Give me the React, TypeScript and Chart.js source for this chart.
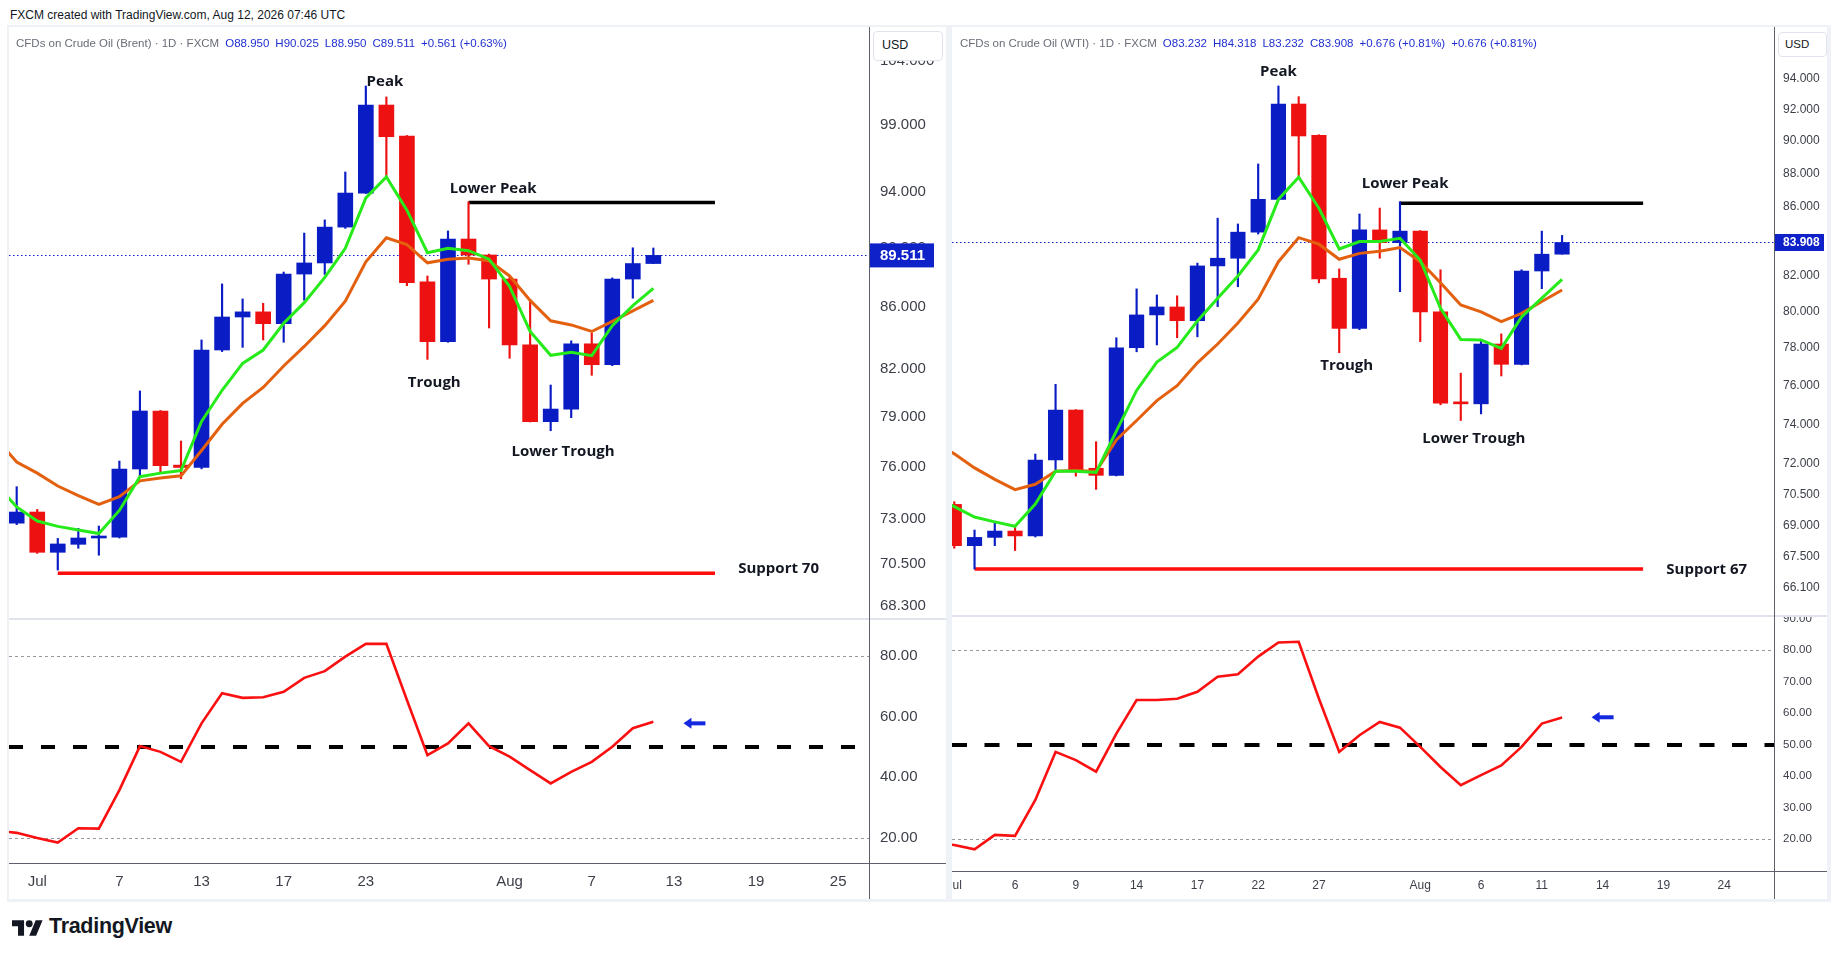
import React, { useEffect, useRef } from "react";
import { Chart, registerables } from "chart.js";

Chart.register(...registerables);

// ===================== DATA =====================
// trading-day index: 0 = 30 Jun, 1 = 1 Jul, ... 24 = 3 Aug, 31 = 12 Aug

// ---- Brent (candles idx 0..31) ----
const brentFirstIdx = 0;
const brentOpen = [72.78, 73.41, 71.16, 71.6, 71.95, 72.0, 75.89, 79.37, 76.12, 75.98, 83.2, 85.35, 85.69, 84.91, 88.23, 88.99, 91.49, 93.93, 100.54, 98.16, 87.7, 83.74, 90.65, 89.54, 87.89, 83.53, 78.72, 79.49, 83.6, 82.26, 87.89, 88.95];
const brentHigh = [74.86, 73.56, 71.93, 72.49, 72.62, 76.36, 80.61, 79.4, 77.55, 83.85, 87.56, 86.55, 86.26, 88.37, 91.07, 92.0, 95.47, 102.03, 101.17, 98.2, 88.1, 91.22, 93.3, 89.6, 88.1, 86.42, 80.98, 83.79, 84.3, 87.97, 90.04, 90.025];
const brentLow = [72.7, 71.1, 70.19, 71.38, 71.0, 71.95, 75.44, 75.73, 75.32, 75.9, 83.1, 83.37, 83.85, 83.7, 86.46, 88.2, 91.4, 93.9, 95.12, 87.44, 82.6, 83.7, 88.9, 84.63, 82.67, 78.7, 78.17, 78.96, 81.59, 82.2, 86.6, 88.95];
const brentClose = [73.41, 71.16, 71.62, 71.95, 72.0, 75.89, 79.37, 76.08, 75.98, 83.2, 85.35, 85.69, 84.91, 88.23, 88.99, 91.49, 93.93, 100.54, 98.11, 87.65, 83.74, 90.65, 89.54, 87.89, 83.53, 78.72, 79.49, 83.6, 82.26, 87.89, 88.95, 89.511];
// indicator lines (idx -1..31)
const brentLineFirstIdx = -1;
const brentFast = [75.0, 73.7, 72.9, 72.6, 72.4, 72.2, 73.5, 75.44, 75.65, 75.8, 78.73, 80.65, 82.34, 83.2, 84.94, 86.3, 88.0, 90.0, 93.58, 95.1, 92.7, 89.7, 90.0, 89.84, 89.25, 87.39, 84.4, 82.86, 83.05, 82.84, 84.78, 86.1, 87.26];
const brentSlow = [77.7, 76.3, 75.65, 74.9, 74.35, 73.84, 74.29, 75.2, 75.37, 75.49, 76.98, 78.56, 79.84, 80.83, 82.18, 83.43, 84.78, 86.4, 89.07, 90.74, 90.26, 89.0, 89.25, 89.33, 89.14, 88.1, 86.45, 85.1, 84.83, 84.4, 85.06, 85.75, 86.45];
const brentRsi = [22.5, 21.7, 20.0, 18.5, 23.2, 23.1, 35.8, 50.3, 48.4, 45.1, 57.8, 67.7, 66.2, 66.4, 68.2, 72.8, 75.0, 79.8, 84.0, 84.0, 65.5, 47.3, 51.2, 57.8, 50.3, 46.8, 42.4, 38.0, 41.8, 45.1, 50.1, 56.2, 58.3];
const brentPriceTicks = [104, 99, 94, 90, 86, 82, 79, 76, 73, 70.5, 68.3];
const brentRsiTicks = [20, 40, 60, 80];
const brentTimeIdx = [1, 5, 9, 13, 17, 24, 28, 32, 36, 40];
const brentTimeLabels = ["Jul", "7", "13", "17", "23", "Aug", "7", "13", "19", "25"];
const brentSupport = 70.02;
const brentLowerPeak = 93.25;

// ---- WTI (candles idx 1..31) ----
const wtiFirstIdx = 1;
const wtiOpen = [70.01, 68.04, 68.43, 68.73, 68.5, 72.19, 74.73, 71.78, 71.43, 78.02, 79.81, 80.25, 79.49, 82.56, 83.0, 84.51, 86.45, 92.34, 90.36, 81.86, 79.07, 84.64, 83.9, 84.57, 79.98, 75.1, 75.05, 78.22, 77.13, 82.27, 83.232];
const wtiHigh = [70.14, 68.78, 69.13, 68.94, 72.49, 76.07, 74.75, 73.11, 78.56, 81.26, 80.92, 80.87, 82.72, 85.33, 84.99, 88.59, 93.5, 92.81, 90.4, 82.39, 85.58, 85.93, 86.31, 84.6, 82.34, 76.66, 78.44, 78.77, 82.34, 84.57, 84.318];
const wtiLow = [67.92, 66.95, 68.04, 67.81, 68.45, 71.7, 71.39, 70.74, 71.4, 77.8, 78.17, 78.56, 78.61, 80.27, 81.38, 84.4, 86.4, 87.82, 81.6, 77.75, 79.0, 83.0, 81.1, 78.35, 75.0, 74.19, 74.53, 76.51, 77.1, 81.27, 83.232];
const wtiClose = [68.04, 68.43, 68.73, 68.5, 72.19, 74.73, 71.7, 71.43, 78.02, 79.81, 80.25, 79.49, 82.56, 83.0, 84.51, 86.45, 92.34, 90.32, 81.82, 79.07, 84.64, 83.9, 84.57, 79.98, 75.08, 75.05, 78.22, 77.13, 82.27, 83.232, 83.908];
// indicator lines (idx 0..31)
const wtiLineFirstIdx = 0;
const wtiFast = [70.4, 69.9, 69.4, 69.17, 68.96, 70.03, 71.63, 71.63, 71.57, 73.65, 75.75, 77.25, 78.04, 79.48, 80.74, 81.99, 83.48, 86.45, 87.78, 85.92, 83.53, 83.96, 83.96, 84.15, 82.9, 80.18, 78.47, 78.44, 77.99, 79.7, 80.74, 81.8];
const wtiSlow = [73.1, 72.5, 71.8, 71.23, 70.73, 70.99, 71.63, 71.67, 71.62, 73.2, 74.19, 75.22, 76.0, 77.21, 78.22, 79.36, 80.68, 82.8, 84.19, 83.81, 82.94, 83.28, 83.4, 83.61, 82.8, 81.6, 80.36, 79.98, 79.44, 79.9, 80.55, 81.2];
const wtiRsi = [18.7, 18.1, 16.7, 21.3, 21.0, 32.4, 47.7, 45.1, 41.4, 53.5, 64.2, 64.2, 64.6, 66.8, 71.6, 72.4, 78.0, 82.5, 82.7, 64.6, 47.7, 53.0, 57.2, 55.4, 49.3, 42.9, 37.1, 40.3, 43.4, 49.3, 56.7, 58.6];
const wtiPriceTicks = [96, 94, 92, 90, 88, 86, 84, 82, 80, 78, 76, 74, 72, 70.5, 69, 67.5, 66.1];
const wtiRsiTicks = [20, 30, 40, 50, 60, 70, 80, 90];
const wtiTimeIdx = [1, 4, 7, 10, 13, 16, 19, 24, 27, 30, 33, 36, 39];
const wtiTimeLabels = ["Jul", "6", "9", "14", "17", "22", "27", "Aug", "6", "11", "14", "19", "24"];
const wtiSupport = 66.95;
const wtiLowerPeak = 86.22;

// ===================== STYLE =====================
const BLUE = "#0a1cc4";
const RED = "#ee1111";
const GREEN = "#27ea1b";
const ORANGE = "#e3600f";
const RSI_RED = "#fa1010";
const LINE_RED = "#ff0d0d";
const AXIS_TEXT = "#3c3f48";
const FONT = "'Liberation Sans', Arial, sans-serif";
const LABEL_FONT = "bold 15px 'Open Sans', 'Liberation Sans', sans-serif";

Chart.defaults.font.family = FONT;

// ===================== OVERLAY PLUGIN =====================
function makeOverlay(cfg: any) {
  return {
    id: "overlay",
    beforeDatasetsDraw(chart: any) {
      const { ctx, chartArea: a, scales } = chart;
      const xs = scales.x;
      const ys = scales.y;
      ctx.save();
      ctx.beginPath();
      ctx.rect(a.left, a.top, a.right - a.left, a.bottom - a.top);
      ctx.clip();
      for (const r of cfg.refLines || []) {
        const py = Math.round(ys.getPixelForValue(r.y)) + (r.width % 2 ? 0.5 : 0);
        ctx.strokeStyle = r.color;
        ctx.lineWidth = r.width;
        ctx.setLineDash(r.dash || []);
        ctx.beginPath();
        ctx.moveTo(a.left, py);
        ctx.lineTo(a.right, py);
        ctx.stroke();
      }
      ctx.setLineDash([]);
      for (const s of cfg.segments || []) {
        const py = ys.getPixelForValue(s.y);
        ctx.strokeStyle = s.color;
        ctx.lineWidth = s.width;
        ctx.beginPath();
        ctx.moveTo(xs.getPixelForValue(s.x1), py);
        ctx.lineTo(xs.getPixelForValue(s.x2), py);
        ctx.stroke();
      }
      if (cfg.last) {
        const py = Math.round(ys.getPixelForValue(cfg.last.value)) + 0.5;
        ctx.strokeStyle = cfg.last.color;
        ctx.lineWidth = 1;
        ctx.setLineDash([1.5, 2.5]);
        ctx.beginPath();
        ctx.moveTo(a.left, py);
        ctx.lineTo(a.right, py);
        ctx.stroke();
        ctx.setLineDash([]);
      }
      ctx.restore();
    },
    afterDatasetsDraw(chart: any) {
      const { ctx, scales } = chart;
      const xs = scales.x;
      const ys = scales.y;
      ctx.save();
      ctx.fillStyle = "#131722";
      ctx.font = LABEL_FONT;
      ctx.textAlign = "center";
      ctx.textBaseline = "middle";
      for (const l of cfg.labels || []) {
        ctx.fillText(l.text, xs.getPixelForValue(l.x), ys.getPixelForValue(l.y));
      }
      for (const ar of cfg.arrows || []) {
        const cx = xs.getPixelForValue(ar.x);
        const cy = ys.getPixelForValue(ar.y);
        ctx.fillStyle = cfg.arrowColor;
        ctx.beginPath();
        ctx.moveTo(cx - 11, cy);
        ctx.lineTo(cx - 3, cy - 5.5);
        ctx.lineTo(cx - 3, cy + 5.5);
        ctx.closePath();
        ctx.fill();
        ctx.fillRect(cx - 4, cy - 2, 15, 4);
      }
      ctx.restore();
    },
    afterDraw(chart: any) {
      if (!cfg.last) return;
      const { ctx, chartArea: a, scales } = chart;
      const py = scales.y.getPixelForValue(cfg.last.value);
      ctx.save();
      ctx.fillStyle = cfg.last.color;
      ctx.fillRect(a.right + 1, py - cfg.last.boxH / 2, cfg.last.boxW, cfg.last.boxH);
      ctx.fillStyle = "#ffffff";
      ctx.font = cfg.last.font;
      ctx.textAlign = "left";
      ctx.textBaseline = "middle";
      ctx.fillText(cfg.last.text, a.right + cfg.last.pad, py + 0.5);
      ctx.restore();
    },
  };
}

// ===================== CONFIG BUILDERS =====================
function priceConfig(p: any) {
  const candles = p.open.map((o: number, k: number) => ({
    x: p.firstIdx + k,
    o,
    h: p.high[k],
    l: p.low[k],
    c: p.close[k],
  }));
  const colors = candles.map((c: any) => (c.c >= c.o ? BLUE : RED));
  const last = candles[candles.length - 1];
  return {
    type: "bar",
    data: {
      datasets: [
        {
          type: "bar",
          data: candles.map((c: any) => ({ x: c.x, y: [c.l, c.h] })),
          backgroundColor: colors,
          barThickness: p.wickW,
          grouped: false,
          order: 3,
        },
        {
          type: "bar",
          data: candles.map((c: any) => ({ x: c.x, y: [c.o, c.c] })),
          backgroundColor: colors,
          barThickness: p.bodyW,
          minBarLength: 2,
          grouped: false,
          order: 2,
        },
        {
          type: "line",
          data: p.slow.map((v: number, k: number) => ({ x: p.lineFirst + k, y: v })),
          borderColor: ORANGE,
          borderWidth: 3,
          pointRadius: 0,
          tension: 0,
          order: 1,
        },
        {
          type: "line",
          data: p.fast.map((v: number, k: number) => ({ x: p.lineFirst + k, y: v })),
          borderColor: GREEN,
          borderWidth: 3,
          pointRadius: 0,
          tension: 0,
          order: 0,
        },
      ],
    },
    options: {
      responsive: false,
      animation: false,
      events: [],
      layout: { padding: 0 },
      plugins: { legend: { display: false }, tooltip: { enabled: false } },
      scales: {
        x: { type: "linear", min: p.xMin, max: p.xMax, display: false, offset: false },
        y: {
          type: "logarithmic",
          position: "right",
          min: p.yMin,
          max: p.yMax,
          grid: { display: false, drawTicks: false },
          border: { display: false },
          ticks: {
            autoSkip: false,
            padding: p.tickPad,
            color: AXIS_TEXT,
            font: { family: FONT, size: p.tickSize },
            callback: (v: any) => Number(v).toFixed(3),
          },
          afterBuildTicks: (s: any) => {
            s.ticks = p.priceTicks.map((v: number) => ({ value: v }));
          },
          afterFit: (s: any) => {
            s.width = p.axisW;
            s.paddingTop = 0;
            s.paddingBottom = 0;
          },
        },
      },
    },
    plugins: [
      makeOverlay({
        segments: p.segments,
        labels: p.labels,
        last: {
          value: last.c,
          text: last.c.toFixed(3),
          color: "#0f21c8",
          boxW: p.boxW,
          boxH: p.boxH,
          font: p.boxFont,
          pad: p.tickPad,
        },
      }),
    ],
  };
}

function rsiConfig(p: any) {
  return {
    type: "line",
    data: {
      datasets: [
        {
          data: p.rsi.map((v: number, k: number) => ({ x: p.lineFirst + k, y: v })),
          borderColor: RSI_RED,
          borderWidth: 2.6,
          pointRadius: 0,
          tension: 0,
        },
      ],
    },
    options: {
      responsive: false,
      animation: false,
      events: [],
      layout: { padding: 0 },
      plugins: { legend: { display: false }, tooltip: { enabled: false } },
      scales: {
        x: {
          type: "linear",
          position: "bottom",
          min: p.xMin,
          max: p.xMax,
          offset: false,
          grid: { display: false, drawTicks: false },
          border: { display: false },
          ticks: {
            autoSkip: false,
            maxRotation: 0,
            minRotation: 0,
            padding: p.timePad,
            color: AXIS_TEXT,
            font: { family: FONT, size: p.timeSize },
            callback: (v: any) => {
              const i = p.timeIdx.indexOf(Number(v));
              return i >= 0 ? p.timeLabels[i] : "";
            },
          },
          afterBuildTicks: (s: any) => {
            s.ticks = p.timeIdx.map((v: number) => ({ value: v }));
          },
          afterFit: (s: any) => {
            s.height = p.timeH;
            s.paddingLeft = 0;
            s.paddingRight = 0;
          },
        },
        y: {
          type: "linear",
          position: "right",
          min: p.rMin,
          max: p.rMax,
          grid: { display: false, drawTicks: false },
          border: { display: false },
          ticks: {
            autoSkip: false,
            padding: p.tickPad,
            color: AXIS_TEXT,
            font: { family: FONT, size: p.rsiTickSize },
            callback: (v: any) => Number(v).toFixed(2),
          },
          afterBuildTicks: (s: any) => {
            s.ticks = p.rsiTicks.map((v: number) => ({ value: v }));
          },
          afterFit: (s: any) => {
            s.width = p.axisW;
            s.paddingTop = 0;
            s.paddingBottom = 0;
          },
        },
      },
    },
    plugins: [
      makeOverlay({
        refLines: [
          { y: 80, color: "#9598a1", width: 1, dash: [3, 3] },
          { y: 20, color: "#9598a1", width: 1, dash: [3, 3] },
          { y: 50, color: "#000000", width: 4, dash: p.midDash },
        ],
        arrows: [{ x: 33, y: p.arrowY }],
        arrowColor: "#1428e0",
      }),
    ],
  };
}

// ===================== PANEL SPECS =====================
const brentPrice = priceConfig({
  open: brentOpen, high: brentHigh, low: brentLow, close: brentClose, firstIdx: brentFirstIdx,
  fast: brentFast, slow: brentSlow, lineFirst: brentLineFirstIdx,
  xMin: -0.375, xMax: 41.5, yMin: 67.585, yMax: 106.79,
  priceTicks: brentPriceTicks, axisW: 78, tickPad: 11, tickSize: 15,
  wickW: 1.5, bodyW: 15, boxW: 64, boxH: 24, boxFont: `bold 15px ${FONT}`,
  segments: [
    { y: brentSupport, x1: 2, x2: 34, color: LINE_RED, width: 3.5 },
    { y: brentLowerPeak, x1: 22, x2: 34, color: "#000000", width: 3.5 },
  ],
  labels: [
    { text: "Peak", x: 17.93, y: 102.37 },
    { text: "Lower Peak", x: 23.2, y: 94.27 },
    { text: "Trough", x: 20.33, y: 81.13 },
    { text: "Lower Trough", x: 26.6, y: 76.92 },
    { text: "Support 70", x: 37.1, y: 70.28 },
  ],
});

const brentRsiCfg = rsiConfig({
  rsi: brentRsi, lineFirst: brentLineFirstIdx,
  xMin: -0.375, xMax: 41.5, rMin: 11.76, rMax: 92.2,
  rsiTicks: brentRsiTicks, timeIdx: brentTimeIdx, timeLabels: brentTimeLabels,
  axisW: 78, tickPad: 11, rsiTickSize: 15, timeSize: 15, timePad: 10, timeH: 36,
  midDash: [14, 18], arrowY: 57.8,
});

const wtiPrice = priceConfig({
  open: wtiOpen, high: wtiHigh, low: wtiLow, close: wtiClose, firstIdx: wtiFirstIdx,
  fast: wtiFast, slow: wtiSlow, lineFirst: wtiLineFirstIdx,
  xMin: 0.888, xMax: 41.46, yMin: 64.81, yMax: 97.39,
  priceTicks: wtiPriceTicks, axisW: 53, tickPad: 9, tickSize: 12,
  wickW: 1.5, bodyW: 14.5, boxW: 49, boxH: 17, boxFont: `bold 12px ${FONT}`,
  segments: [
    { y: wtiSupport, x1: 2, x2: 35, color: LINE_RED, width: 3.5 },
    { y: wtiLowerPeak, x1: 23, x2: 35, color: "#000000", width: 3.5 },
  ],
  labels: [
    { text: "Peak", x: 17.0, y: 94.43 },
    { text: "Lower Peak", x: 23.25, y: 87.37 },
    { text: "Trough", x: 20.37, y: 77.05 },
    { text: "Lower Trough", x: 26.64, y: 73.28 },
    { text: "Support 67", x: 38.14, y: 66.9 },
  ],
});

const wtiRsiCfg = rsiConfig({
  rsi: wtiRsi, lineFirst: wtiLineFirstIdx,
  xMin: 0.888, xMax: 41.46, rMin: 9.83, rMax: 90.9,
  rsiTicks: wtiRsiTicks, timeIdx: wtiTimeIdx, timeLabels: wtiTimeLabels,
  axisW: 53, tickPad: 9, rsiTickSize: 11.5, timeSize: 12, timePad: 7, timeH: 28,
  midDash: [15, 17.5], arrowY: 58.7,
});

// ===================== COMPONENTS =====================
function ChartCanvas(props: { left: number; top: number; width: number; height: number; config: any }) {
  const ref = useRef<HTMLCanvasElement>(null);
  useEffect(() => {
    const chart = new Chart(ref.current as HTMLCanvasElement, props.config);
    return () => chart.destroy();
  }, []);
  return (
    <canvas
      ref={ref}
      width={props.width}
      height={props.height}
      style={{ position: "absolute", left: props.left, top: props.top, width: props.width, height: props.height, zIndex: 1 }}
    />
  );
}

function Box(props: { l: number; t: number; w: number; h: number; bg: string; z?: number }) {
  return (
    <div
      style={{
        position: "absolute",
        left: props.l,
        top: props.t,
        width: props.w,
        height: props.h,
        background: props.bg,
        zIndex: props.z === undefined ? 2 : props.z,
      }}
    />
  );
}

function Legend(props: { left: number; name: string; o: number[]; h: number[]; l: number[]; c: number[]; twice?: boolean }) {
  const n = props.c.length - 1;
  const ch = props.c[n] - props.c[n - 1];
  const pct = (ch / props.c[n - 1]) * 100;
  const blue = "#1f2fd0";
  const grey = "#6a6d78";
  const chText = `${ch >= 0 ? "+" : ""}${ch.toFixed(3)} (${ch >= 0 ? "+" : ""}${pct.toFixed(2)}%)`;
  const item = (k: string, v: number) => (
    <span style={{ marginLeft: 6 }}>
      <span style={{ color: blue }}>{k}</span>
      <span style={{ color: blue }}>{v.toFixed(3)}</span>
    </span>
  );
  return (
    <div
      style={{
        position: "absolute",
        left: props.left,
        top: 37,
        font: `11.5px ${FONT}`,
        color: grey,
        whiteSpace: "nowrap",
        zIndex: 3,
      }}
    >
      <span>{props.name}</span>
      {item("O", props.o[n])}
      {item("H", props.h[n])}
      {item("L", props.l[n])}
      {item("C", props.c[n])}
      <span style={{ color: blue, marginLeft: 6 }}>{chText}</span>
      {props.twice ? <span style={{ color: blue, marginLeft: 6 }}>{chText}</span> : null}
    </div>
  );
}

export default function App() {
  const axisLine = "#5d606b";
  const sep = "#e0e3eb";
  return (
    <div style={{ position: "fixed", left: 0, top: 0, width: 1838, height: 959, background: "#ffffff", overflow: "hidden" }}>
      <div style={{ position: "absolute", left: 10, top: 8, font: `12px ${FONT}`, color: "#131722", whiteSpace: "nowrap" }}>
        FXCM created with TradingView.com, Aug 12, 2026 07:46 UTC
      </div>

      {/* panel frames */}
      <Box l={7} t={25} w={1824} h={877} bg="#eef1f6" z={0} />
      <Box l={9} t={27} w={937} h={872} bg="#ffffff" z={0} />
      <Box l={952} t={27} w={875} h={872} bg="#ffffff" z={0} />

      {/* charts */}
      <ChartCanvas left={9} top={27} width={938} height={592} config={brentPrice} />
      <ChartCanvas left={9} top={619} width={938} height={280} config={brentRsiCfg} />
      <ChartCanvas left={952} top={27} width={875} height={589} config={wtiPrice} />
      <ChartCanvas left={952} top={616} width={875} height={283} config={wtiRsiCfg} />

      {/* structural lines */}
      <Box l={9} t={618} w={937} h={1.5} bg={sep} />
      <Box l={9} t={862.5} w={937} h={1.5} bg={axisLine} />
      <Box l={869} t={27} w={1} h={872} bg={axisLine} />
      <Box l={952} t={615} w={875} h={1.5} bg={sep} />
      <Box l={952} t={870.5} w={875} h={1.5} bg={axisLine} />
      <Box l={1774} t={27} w={1} h={872} bg={axisLine} />

      {/* USD boxes */}
      <div
        style={{
          position: "absolute", left: 873, top: 31, width: 60, height: 28, border: "1px solid #e0e3eb", borderRadius: 4,
          background: "#fff", font: `12.5px ${FONT}`, color: "#131722", lineHeight: "26px", paddingLeft: 8, zIndex: 3,
        }}
      >
        USD
      </div>
      <div
        style={{
          position: "absolute", left: 1778, top: 32, width: 41, height: 23, border: "1px solid #e0e3eb", borderRadius: 4,
          background: "#fff", font: `11.5px ${FONT}`, color: "#131722", lineHeight: "23px", paddingLeft: 6, zIndex: 3,
        }}
      >
        USD
      </div>

      <Legend left={16} name="CFDs on Crude Oil (Brent) · 1D · FXCM" o={brentOpen} h={brentHigh} l={brentLow} c={brentClose} />
      <Legend left={960} name="CFDs on Crude Oil (WTI) · 1D · FXCM" o={wtiOpen} h={wtiHigh} l={wtiLow} c={wtiClose} twice />

      {/* TradingView logo */}
      <svg style={{ position: "absolute", left: 12, top: 920 }} width={31} height={16} viewBox="0 4 36 18">
        <path d="M14 22H7V11H0V4h14v18zM28 22h-8l7.5-18h8L28 22z" fill="#131722" />
        <circle cx="20" cy="8" r="4" fill="#131722" />
      </svg>
      <div style={{ position: "absolute", left: 49, top: 914, font: `bold 21.5px ${FONT}`, color: "#131722", lineHeight: "25px", letterSpacing: -0.3 }}>
        TradingView
      </div>
    </div>
  );
}
